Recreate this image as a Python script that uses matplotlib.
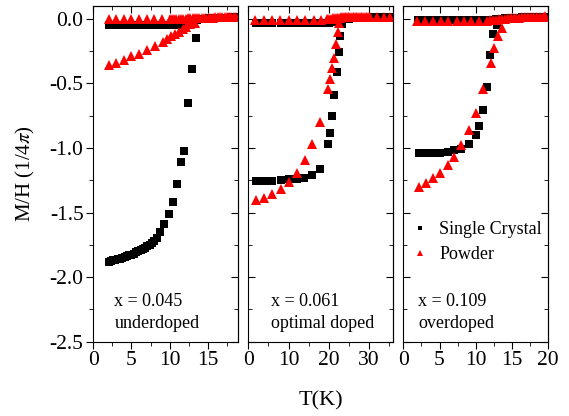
import matplotlib
matplotlib.use("Agg")
import matplotlib.pyplot as plt
from matplotlib.ticker import MultipleLocator, FormatStrFormatter

plt.rcParams['font.family'] = 'serif'
plt.rcParams['font.serif'] = ['Liberation Serif', 'Times New Roman', 'DejaVu Serif']
plt.rcParams['mathtext.fontset'] = 'stix'
plt.rcParams['axes.unicode_minus'] = False

# ---- x = 0.045 (underdoped) ----
sc_zfc_T1 = [2.0, 2.3, 2.6, 2.9, 3.2, 3.5, 3.8, 4.1, 4.4, 4.7, 5.0, 5.3, 5.6, 5.9, 6.2, 6.5,
             6.8, 7.1, 7.4, 7.7, 8.0, 8.3, 8.7, 9.2, 9.9, 10.5, 11.0, 11.5, 11.9, 12.4, 12.9, 13.5]
sc_zfc_M1 = [-1.880, -1.876, -1.871, -1.866, -1.861, -1.856, -1.851, -1.845, -1.839, -1.832,
             -1.825, -1.817, -1.809, -1.800, -1.791, -1.782, -1.772, -1.761, -1.749, -1.735,
             -1.717, -1.695, -1.650, -1.590, -1.510, -1.420, -1.280, -1.110, -1.020, -0.650,
             -0.390, -0.145]
sc_fc_T1 = [2.0, 2.4, 2.8, 3.2, 3.6, 4.0, 4.4, 4.8, 5.2, 5.6, 6.0, 6.4, 6.8, 7.2, 7.6, 8.0,
            8.4, 8.8, 9.2, 9.6, 10.0, 10.4, 10.8, 11.2, 11.6, 12.0, 12.4, 12.8, 13.2, 13.6,
            14.0, 14.4, 14.8, 15.2, 15.6, 16.0, 16.4, 16.8, 17.2, 17.6, 18.0, 18.4, 18.8]
sc_fc_M1 = [-0.047] * 22 + [-0.046, -0.045, -0.044, -0.042, -0.039, -0.033, -0.022, -0.010,
                            -0.004, 0.000, 0.002, 0.004, 0.005, 0.006, 0.007, 0.008, 0.009,
                            0.010, 0.011, 0.012, 0.013]
pw_zfc_T1 = [2.0, 3.0, 4.0, 5.0, 6.0, 7.0, 8.1, 9.1, 9.6, 10.2, 10.7, 11.2, 11.7, 12.1, 12.7, 13.3]
pw_zfc_M1 = [-0.359, -0.338, -0.318, -0.291, -0.268, -0.243, -0.209, -0.178, -0.157, -0.136,
             -0.119, -0.098, -0.080, -0.062, -0.041, -0.028]
pw_fc_T1 = [2.0, 3.0, 4.0, 5.0, 6.0, 7.0, 8.0, 9.0, 10.0,
            10.3, 10.6, 10.9, 11.2, 11.5, 11.8, 12.1, 12.4, 12.7, 13.0, 13.3, 13.6, 13.9, 14.2,
            14.5, 14.8, 15.1, 15.4, 15.7, 16.0, 16.3, 16.6, 16.9, 17.2, 17.5, 17.8, 18.1, 18.4, 18.7]
pw_fc_M1 = [-0.004] * 9 + [-0.003, -0.002, -0.001, 0.000, 0.001, 0.002, 0.003, 0.004, 0.005,
                           0.006, 0.007, 0.007, 0.008, 0.008, 0.009, 0.009, 0.010, 0.010,
                           0.010, 0.011, 0.011, 0.011, 0.012, 0.012, 0.012, 0.012, 0.013,
                           0.013, 0.013]

# ---- x = 0.061 (optimal doped) ----
sc_zfc_T2 = [1.9, 3.9, 6.0, 8.1, 10.1, 12.0, 13.9, 15.9, 17.9, 19.9, 20.3, 20.9, 21.4, 22.0,
             22.4, 22.8, 23.2]
sc_zfc_M2 = [-1.256, -1.256, -1.255, -1.250, -1.243, -1.237, -1.230, -1.210, -1.160, -0.971,
             -0.880, -0.752, -0.590, -0.415, -0.256, -0.130, -0.040]
sc_fc_T2 = [1.9, 3.9, 6.0, 8.1, 10.1, 12.0, 14.0, 16.0, 18.0, 20.0, 21.0, 22.0, 23.0, 24.0,
            25.0, 26.0, 27.0, 28.0, 29.0, 30.0, 31.0, 32.3, 34.0, 35.5]
sc_fc_M2 = [-0.028] * 10 + [-0.027, -0.024, -0.012, -0.002, 0.003, 0.006, 0.008, 0.009, 0.010,
                            0.010, 0.011, 0.011, 0.012, 0.012]
pw_zfc_T2 = [1.9, 4.0, 6.0, 8.1, 10.1, 12.0, 14.0, 15.9, 17.9, 19.9, 20.3, 20.8, 21.3, 21.8,
             22.2, 22.6]
pw_zfc_M2 = [-1.403, -1.385, -1.354, -1.315, -1.264, -1.190, -1.095, -0.971, -0.798, -0.545,
             -0.467, -0.382, -0.300, -0.196, -0.098, -0.030]
pw_fc_T2 = [1.7, 3.8, 5.8, 7.9, 10.0, 12.0, 14.1, 16.2, 18.0,
            19.5, 19.9, 20.3, 20.7, 21.1, 21.5, 21.9, 22.3, 22.7, 23.1, 23.5, 23.9, 24.3, 24.7,
            25.1, 25.5, 25.9, 26.3, 26.7, 27.1, 27.5, 27.9, 28.3, 28.7, 29.1, 29.5, 29.9, 30.3,
            31.9, 33.6, 35.2]
pw_fc_M2 = [-0.006] * 9 + [-0.004, -0.002, 0.000, 0.002, 0.004, 0.006, 0.008, 0.009, 0.010,
                           0.011, 0.012, 0.013, 0.014, 0.014, 0.015, 0.015, 0.015, 0.016,
                           0.016, 0.016, 0.016, 0.017, 0.017, 0.017, 0.017, 0.017, 0.017,
                           0.017, 0.012, 0.012, 0.012]

# ---- x = 0.109 (overdoped) ----
sc_zfc_T3 = [2.1, 2.8, 3.5, 4.1, 5.0, 6.1, 7.0, 8.0, 9.0, 10.0, 10.5, 11.0, 11.5, 12.0, 12.4, 12.9]
sc_zfc_M3 = [-1.041, -1.041, -1.040, -1.039, -1.036, -1.028, -1.018, -1.010, -0.971, -0.900,
             -0.829, -0.708, -0.524, -0.281, -0.113, -0.050]
sc_fc_T3 = [2.0, 2.4, 2.8, 3.2, 3.6, 4.0, 4.4, 4.8, 5.2, 5.6, 6.0, 6.4, 6.8, 7.2, 7.6, 8.0,
            8.4, 8.8, 9.2, 9.6, 10.0, 10.4, 10.8, 11.2, 11.6, 12.0, 12.4, 12.8, 13.2, 13.6,
            14.0, 14.4, 14.8, 15.2, 15.6, 16.0, 16.4, 16.8, 17.2, 17.6, 18.0, 18.4, 18.8,
            19.2, 19.6]
sc_fc_M3 = [-0.008] * 26 + [-0.006, -0.003, 0.000, 0.003, 0.005, 0.006, 0.007, 0.008, 0.009,
                            0.010, 0.011, 0.011, 0.012, 0.012, 0.013, 0.013, 0.014, 0.014,
                            0.015]
pw_zfc_T3 = [2.1, 3.1, 4.1, 5.1, 6.1, 7.0, 8.0, 9.0, 10.0, 11.0, 12.05, 12.5, 13.0, 13.6]
pw_zfc_M3 = [-1.300, -1.268, -1.235, -1.190, -1.134, -1.067, -0.977, -0.863, -0.726, -0.545,
             -0.338, -0.225, -0.133, -0.067]
pw_fc_T3 = [1.9, 3.0, 4.1, 5.2, 6.2, 7.4, 8.4, 9.4, 10.4, 11.5,
            12.0, 12.4, 12.8, 13.2, 13.6, 14.0, 14.4, 14.8, 15.2, 15.6, 16.0, 16.4, 16.8,
            17.2, 17.6, 18.0, 18.4, 18.8, 19.2, 19.6]
pw_fc_M3 = [-0.020, -0.020, -0.020, -0.019, -0.019, -0.018, -0.018, -0.017, -0.016, -0.015,
            -0.012, -0.009, -0.006, -0.003, 0.000, 0.002, 0.004, 0.006, 0.008, 0.009, 0.010,
            0.011, 0.012, 0.013, 0.014, 0.015, 0.016, 0.017, 0.018, 0.019]

panels = [
    (sc_zfc_T1, sc_zfc_M1, sc_fc_T1, sc_fc_M1, pw_zfc_T1, pw_zfc_M1, pw_fc_T1, pw_fc_M1),
    (sc_zfc_T2, sc_zfc_M2, sc_fc_T2, sc_fc_M2, pw_zfc_T2, pw_zfc_M2, pw_fc_T2, pw_fc_M2),
    (sc_zfc_T3, sc_zfc_M3, sc_fc_T3, sc_fc_M3, pw_zfc_T3, pw_zfc_M3, pw_fc_T3, pw_fc_M3),
]
doping = ["x = 0.045", "x = 0.061", "x = 0.109"]
regime = ["underdoped", "optimal doped", "overdoped"]
xmax = [19, 36, 20]
xmaj = [5, 10, 5]
xmin = [2.5, 5, 2.5]
txt_x = [0.145, 0.157, 0.103]

W, H = 569.0, 416.0
lefts = [93.3, 248.3, 403.3]
fig = plt.figure(figsize=(W / 100, H / 100), dpi=100)

for i in range(3):
    szT, szM, sfT, sfM, pzT, pzM, pfT, pfM = panels[i]
    ax = fig.add_axes([lefts[i] / W, 1 - 341.7 / H, 145 / W, 335.7 / H])
    ax.plot(szT, szM, 's', color='black', ms=5.3, mew=0, label='Single Crystal')
    ax.plot(sfT, sfM, 's', color='black', ms=5.3, mew=0)
    ax.plot(pzT, pzM, '^', color='red', ms=7.3, mew=0, label='Powder')
    ax.plot(pfT, pfM, '^', color='red', ms=7.3, mew=0)

    ax.set_xlim(0, xmax[i])
    ax.set_ylim(-2.5, 0.1)
    ax.xaxis.set_major_locator(MultipleLocator(xmaj[i]))
    ax.xaxis.set_minor_locator(MultipleLocator(xmin[i]))
    ax.yaxis.set_major_locator(MultipleLocator(0.5))
    ax.yaxis.set_minor_locator(MultipleLocator(0.25))
    ax.yaxis.set_major_formatter(FormatStrFormatter('%.1f'))
    ax.tick_params(axis='x', which='both', direction='out', top=False, labelsize=15.5, pad=2)
    ax.tick_params(axis='y', which='both', direction='out' if i == 0 else 'in',
                   right=False, labelleft=(i == 0), labelsize=15.5, pad=2)
    ax.tick_params(which='major', length=5)
    ax.tick_params(which='minor', length=3)

    top = ax.secondary_xaxis('top')
    top.xaxis.set_major_locator(MultipleLocator(xmaj[i]))
    top.xaxis.set_minor_locator(MultipleLocator(xmin[i]))
    top.tick_params(which='both', direction='in', labeltop=False)
    top.tick_params(which='major', length=5)
    top.tick_params(which='minor', length=3)
    right = ax.secondary_yaxis('right')
    right.yaxis.set_major_locator(MultipleLocator(0.5))
    right.yaxis.set_minor_locator(MultipleLocator(0.25))
    right.tick_params(which='both', direction='in', labelright=False)
    right.tick_params(which='major', length=5)
    right.tick_params(which='minor', length=3)

    ax.text(txt_x[i], 0.106, doping[i], transform=ax.transAxes, fontsize=13, va='baseline')
    ax.text(txt_x[i], 0.041, regime[i], transform=ax.transAxes, fontsize=13, va='baseline')

    if i == 2:
        ax.legend(loc='upper left', bbox_to_anchor=(0.05, 0.36), frameon=False, fontsize=13,
                  handlelength=1.0, handletextpad=0.6, labelspacing=0.45, markerscale=0.65,
                  borderaxespad=0, borderpad=0)

fig.text(25 / W, 1 - 174 / H, r'M/H (1/4$\pi$)', rotation=90, ha='center', va='center', fontsize=15)
fig.text(320.7 / W, 1 - 401 / H, 'T(K)', ha='center', va='center', fontsize=16)

fig.savefig('out.png', dpi=100)
